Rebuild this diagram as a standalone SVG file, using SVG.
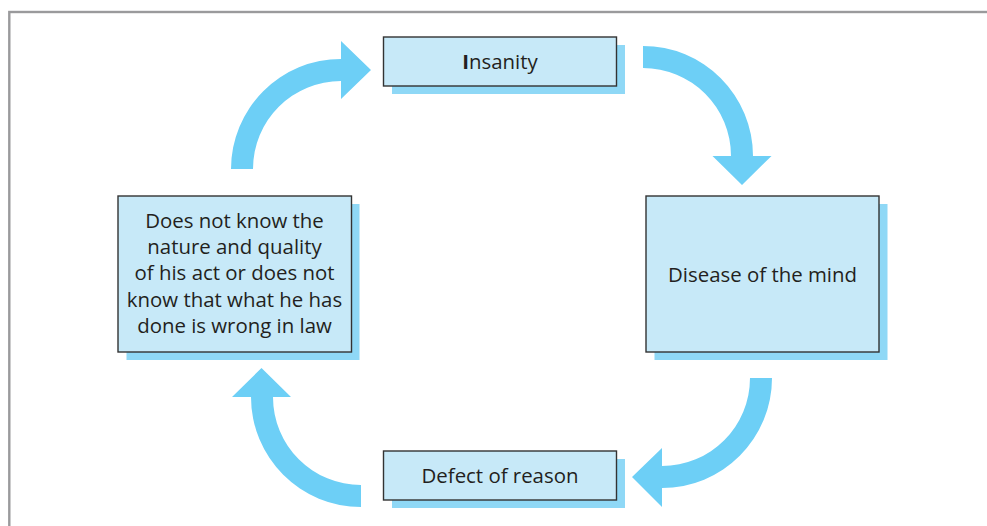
<svg xmlns="http://www.w3.org/2000/svg" width="987" height="526" viewBox="0 0 987 526">
<style>
.frame{fill:none;stroke:#9a9a9c;stroke-width:2.4}
.shadow{fill:#8fd8f6}
.box{fill:#c7e9f8;stroke:#333333;stroke-width:1.4}
.lbl{font-family:"Open Sans","Liberation Sans",sans-serif;font-size:20.4px;fill:#231f20;text-anchor:middle}
.arrow{fill:#6dcff6}
</style>
<rect class="frame" x="9.3" y="12" width="1000" height="600"/>
<g id="connectors">
<path class="arrow" d="M231,169 A110,110 0 0 1 341,59 L341,41 L371,70 L341,99 L341,81 A88,88 0 0 0 253,169 Z"/>
<path class="arrow" d="M643,46 A110,110 0 0 1 753,156 L771.5,156 L742,185 L712.5,156 L731,156 A88,88 0 0 0 643,68 Z"/>
<path class="arrow" d="M772,378 A110,110 0 0 1 662,488 L662,507 L632,477 L662,448 L662,466 A88,88 0 0 0 750,378 Z"/>
<path class="arrow" d="M361,507 A110,110 0 0 1 251,397 L232,397 L261.5,368 L291,397 L273,397 A88,88 0 0 0 361,485 Z"/>
</g>
<g id="insanity">
<rect class="shadow" x="392" y="45" width="233" height="49"/>
<rect class="box" x="383.5" y="37" width="233" height="49"/>
<text class="lbl" x="500" y="68.5"><tspan font-weight="bold">I</tspan>nsanity</text>
</g>
<g id="disease">
<rect class="shadow" x="654.5" y="204" width="233" height="156"/>
<rect class="box" x="646" y="196" width="233" height="156"/>
<text class="lbl" x="762.5" y="281.7">Disease of the mind</text>
</g>
<g id="defect">
<rect class="shadow" x="392" y="459" width="233" height="49"/>
<rect class="box" x="383.5" y="451" width="233" height="49"/>
<text class="lbl" x="500" y="482.7">Defect of reason</text>
</g>
<g id="does-not-know">
<rect class="shadow" x="126.5" y="204" width="233" height="156"/>
<rect class="box" x="118" y="196" width="233.5" height="156"/>
<text class="lbl" x="234.5" y="227.7">Does not know the</text>
<text class="lbl" x="234.5" y="253.5">nature and quality</text>
<text class="lbl" x="234.5" y="280">of his act or does not</text>
<text class="lbl" x="234.5" y="307">know that what he has</text>
<text class="lbl" x="234.5" y="333.3">done is wrong in law</text>
</g>
</svg>
